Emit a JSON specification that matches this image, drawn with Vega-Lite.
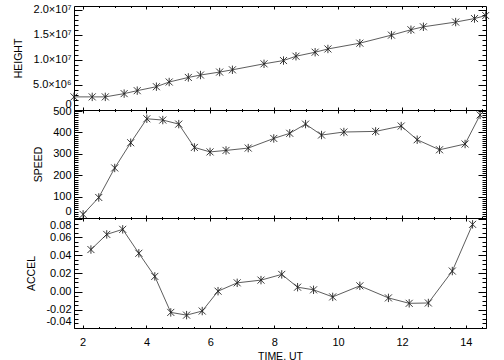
{
  "$schema": "https://vega.github.io/schema/vega-lite/v6.json",
  "padding": {"left": 13, "top": 3, "right": 16, "bottom": 0},
  "background": "white",
  "spacing": 0,
  "bounds": "flush",
  "config": {
    "view": {"stroke": "#000", "strokeWidth": 1},
    "axis": {"domain": false, "grid": false, "minExtent": 0, "labelOverlap": false, "tickColor": "#000", "tickWidth": 1, "labelFont": "Liberation Sans", "labelFontSize": 11, "labelColor": "#000", "titleFont": "Liberation Sans", "titleFontSize": 10.5, "titleFontWeight": "normal", "titleColor": "#000"}
  },
  "datasets": {
    "h": [
      {"t": 1.73, "v": 2610000}, {"t": 2.30, "v": 2610000}, {"t": 2.71, "v": 2610000}, {"t": 3.30, "v": 3260000},
      {"t": 3.71, "v": 3850000}, {"t": 4.31, "v": 4640000}, {"t": 4.71, "v": 5570000}, {"t": 5.31, "v": 6480000},
      {"t": 5.69, "v": 6960000}, {"t": 6.29, "v": 7550000}, {"t": 6.69, "v": 8000000}, {"t": 7.68, "v": 9190000},
      {"t": 8.29, "v": 9840000}, {"t": 8.68, "v": 10700000}, {"t": 9.28, "v": 11500000}, {"t": 9.68, "v": 12150000},
      {"t": 10.68, "v": 13300000}, {"t": 11.67, "v": 14900000}, {"t": 12.28, "v": 15970000}, {"t": 12.67, "v": 16560000},
      {"t": 13.68, "v": 17500000}, {"t": 14.27, "v": 18200000}, {"t": 14.62, "v": 18800000}
    ],
    "s": [
      {"t": 2.015, "v": 17}, {"t": 2.505, "v": 96}, {"t": 3.005, "v": 234}, {"t": 3.505, "v": 352},
      {"t": 4.01, "v": 464}, {"t": 4.51, "v": 458}, {"t": 5.01, "v": 439}, {"t": 5.50, "v": 330},
      {"t": 5.99, "v": 309}, {"t": 6.49, "v": 316}, {"t": 7.185, "v": 327}, {"t": 7.985, "v": 372},
      {"t": 8.485, "v": 396}, {"t": 8.98, "v": 439}, {"t": 9.48, "v": 388}, {"t": 10.18, "v": 402},
      {"t": 11.175, "v": 405}, {"t": 11.975, "v": 430}, {"t": 12.475, "v": 366}, {"t": 13.175, "v": 319},
      {"t": 13.975, "v": 346}, {"t": 14.445, "v": 482}
    ],
    "a": [
      {"t": 2.26, "v": 0.0463}, {"t": 2.755, "v": 0.063}, {"t": 3.255, "v": 0.0686}, {"t": 3.76, "v": 0.0422},
      {"t": 4.26, "v": 0.0167}, {"t": 4.76, "v": -0.023}, {"t": 5.255, "v": -0.026}, {"t": 5.745, "v": -0.0215},
      {"t": 6.24, "v": 0.0004}, {"t": 6.84, "v": 0.0096}, {"t": 7.585, "v": 0.0126}, {"t": 8.235, "v": 0.0189},
      {"t": 8.73, "v": 0.0048}, {"t": 9.23, "v": 0.0019}, {"t": 9.83, "v": -0.0059}, {"t": 10.68, "v": 0.0063},
      {"t": 11.575, "v": -0.007}, {"t": 12.225, "v": -0.013}, {"t": 12.825, "v": -0.0126}, {"t": 13.575, "v": 0.0226},
      {"t": 14.21, "v": 0.0741}
    ]
  },
  "vconcat": [
    {
      "width": 412, "height": 104,
      "data": {"name": "h"},
      "resolve": {"axis": {"x": "independent", "y": "independent"}},
      "layer": [
        {"mark": {"type": "line", "color": "#333", "strokeWidth": 0.8},
         "encoding": {
           "x": {"field": "t", "type": "quantitative", "scale": {"domain": [1.73, 14.63], "nice": false, "zero": false}, "axis": null},
           "y": {"field": "v", "type": "quantitative", "scale": {"domain": [0, 20700000], "nice": false, "zero": false},
                 "axis": {"orient": "left", "values": [0, 5000000, 10000000, 15000000, 20000000], "ticks": false, "labelPadding": 3, "labelFlush": true, "labelFlushOffset": -1, "title": "HEIGHT", "titlePadding": 9,
                          "labelExpr": "datum.value == 0 ? '0' : datum.value == 5000000 ? '5.0×10⁶' : datum.value == 10000000 ? '1.0×10⁷' : datum.value == 15000000 ? '1.5×10⁷' : '2.0×10⁷'"}}
         }},
        {"mark": {"type": "point", "shape": "M-1,-1L1,1M-1,1L1,-1M0,-1.2L0,1.2", "size": 49, "filled": false, "stroke": "#222", "strokeWidth": 0.9, "opacity": 1},
         "encoding": {
           "x": {"field": "t", "type": "quantitative", "axis": {"orient": "bottom", "values": [2,4,6,8,10,12,14], "labels": false, "tickSize": -3, "title": null}},
           "y": {"field": "v", "type": "quantitative", "axis": {"orient": "left", "values": [0, 5000000, 10000000, 15000000, 20000000], "labels": false, "tickSize": -8, "title": null}}
         }},
        {"mark": {"type": "point", "opacity": 0},
         "encoding": {
           "x": {"field": "t", "type": "quantitative", "axis": {"orient": "bottom", "values": [2.5,3,3.5,4.5,5,5.5,6.5,7,7.5,8.5,9,9.5,10.5,11,11.5,12.5,13,13.5,14.5], "labels": false, "tickSize": -1.5, "title": null}},
           "y": {"field": "v", "type": "quantitative", "axis": {"orient": "left", "values": [1000000,2000000,3000000,4000000,6000000,7000000,8000000,9000000,11000000,12000000,13000000,14000000,16000000,17000000,18000000,19000000], "labels": false, "tickSize": -4, "title": null}}
         }},
        {"mark": {"type": "point", "opacity": 0},
         "encoding": {
           "x": {"field": "t", "type": "quantitative", "axis": {"orient": "top", "values": [2,4,6,8,10,12,14], "labels": false, "tickSize": -3, "title": null}},
           "y": {"field": "v", "type": "quantitative", "axis": {"orient": "right", "values": [0, 5000000, 10000000, 15000000, 20000000], "labels": false, "tickSize": -8, "title": null}}
         }},
        {"mark": {"type": "point", "opacity": 0},
         "encoding": {
           "x": {"field": "t", "type": "quantitative", "axis": {"orient": "top", "values": [2.5,3,3.5,4.5,5,5.5,6.5,7,7.5,8.5,9,9.5,10.5,11,11.5,12.5,13,13.5,14.5], "labels": false, "tickSize": -1.5, "title": null}},
           "y": {"field": "v", "type": "quantitative", "axis": {"orient": "right", "values": [1000000,2000000,3000000,4000000,6000000,7000000,8000000,9000000,11000000,12000000,13000000,14000000,16000000,17000000,18000000,19000000], "labels": false, "tickSize": -4, "title": null}}
         }}
      ]
    },
    {
      "width": 412, "height": 108,
      "data": {"name": "s"},
      "resolve": {"axis": {"x": "independent", "y": "independent"}},
      "layer": [
        {"mark": {"type": "line", "color": "#333", "strokeWidth": 0.8},
         "encoding": {
           "x": {"field": "t", "type": "quantitative", "scale": {"domain": [1.73, 14.63], "nice": false, "zero": false}, "axis": null},
           "y": {"field": "v", "type": "quantitative", "scale": {"domain": [0, 505], "nice": false, "zero": false},
                 "axis": {"orient": "left", "values": [0, 100, 200, 300, 400, 500], "ticks": false, "labelPadding": 3, "labelFlush": true, "labelFlushOffset": -2, "title": "SPEED", "titlePadding": 9}}
         }},
        {"mark": {"type": "point", "shape": "M-1,-1L1,1M-1,1L1,-1M0,-1.2L0,1.2", "size": 49, "filled": false, "stroke": "#222", "strokeWidth": 0.9, "opacity": 1},
         "encoding": {
           "x": {"field": "t", "type": "quantitative", "axis": {"orient": "bottom", "values": [2,4,6,8,10,12,14], "labels": false, "tickSize": -3, "title": null}},
           "y": {"field": "v", "type": "quantitative", "axis": {"orient": "left", "values": [0, 100, 200, 300, 400, 500], "labels": false, "tickSize": -8, "title": null}}
         }},
        {"mark": {"type": "point", "opacity": 0},
         "encoding": {
           "x": {"field": "t", "type": "quantitative", "axis": {"orient": "bottom", "values": [2.5,3,3.5,4.5,5,5.5,6.5,7,7.5,8.5,9,9.5,10.5,11,11.5,12.5,13,13.5,14.5], "labels": false, "tickSize": -1.5, "title": null}},
           "y": {"field": "v", "type": "quantitative", "axis": {"orient": "left", "values": [10,20,30,40,50,60,70,80,90,110,120,130,140,150,160,170,180,190,210,220,230,240,250,260,270,280,290,310,320,330,340,350,360,370,380,390,410,420,430,440,450,460,470,480,490], "labels": false, "tickSize": -4, "title": null}}
         }},
        {"mark": {"type": "point", "opacity": 0},
         "encoding": {
           "x": {"field": "t", "type": "quantitative", "axis": {"orient": "top", "values": [2,4,6,8,10,12,14], "labels": false, "tickSize": -3, "title": null}},
           "y": {"field": "v", "type": "quantitative", "axis": {"orient": "right", "values": [0, 100, 200, 300, 400, 500], "labels": false, "tickSize": -8, "title": null}}
         }},
        {"mark": {"type": "point", "opacity": 0},
         "encoding": {
           "x": {"field": "t", "type": "quantitative", "axis": {"orient": "top", "values": [2.5,3,3.5,4.5,5,5.5,6.5,7,7.5,8.5,9,9.5,10.5,11,11.5,12.5,13,13.5,14.5], "labels": false, "tickSize": -1.5, "title": null}},
           "y": {"field": "v", "type": "quantitative", "axis": {"orient": "right", "values": [10,20,30,40,50,60,70,80,90,110,120,130,140,150,160,170,180,190,210,220,230,240,250,260,270,280,290,310,320,330,340,350,360,370,380,390,410,420,430,440,450,460,470,480,490], "labels": false, "tickSize": -4, "title": null}}
         }}
      ]
    },
    {
      "width": 412, "height": 110,
      "data": {"name": "a"},
      "resolve": {"axis": {"x": "independent", "y": "independent"}},
      "layer": [
        {"mark": {"type": "line", "color": "#333", "strokeWidth": 0.8},
         "encoding": {
           "x": {"field": "t", "type": "quantitative", "scale": {"domain": [1.73, 14.63], "nice": false, "zero": false},
                 "axis": {"orient": "bottom", "values": [2,4,6,8,10,12,14], "ticks": false, "labelPadding": 8, "title": "TIME, UT", "titlePadding": 4, "format": "d"}},
           "y": {"field": "v", "type": "quantitative", "scale": {"domain": [-0.0402, 0.0811], "nice": false, "zero": false},
                 "axis": {"orient": "left", "values": [-0.04, -0.02, 0, 0.02, 0.04, 0.06, 0.08], "ticks": false, "labelPadding": 3, "labelFlush": true, "labelFlushOffset": -1, "title": "ACCEL", "titlePadding": 9,
                          "labelExpr": "replace(format(datum.value, '.2f'), '−', '-')"}}
         }},
        {"mark": {"type": "point", "shape": "M-1,-1L1,1M-1,1L1,-1M0,-1.2L0,1.2", "size": 49, "filled": false, "stroke": "#222", "strokeWidth": 0.9, "opacity": 1},
         "encoding": {
           "x": {"field": "t", "type": "quantitative", "axis": {"orient": "bottom", "values": [2,4,6,8,10,12,14], "labels": false, "tickSize": -3, "title": null}},
           "y": {"field": "v", "type": "quantitative", "axis": {"orient": "left", "values": [-0.04, -0.02, 0, 0.02, 0.04, 0.06, 0.08], "labels": false, "tickSize": -8, "title": null}}
         }},
        {"mark": {"type": "point", "opacity": 0},
         "encoding": {
           "x": {"field": "t", "type": "quantitative", "axis": {"orient": "bottom", "values": [2.5,3,3.5,4.5,5,5.5,6.5,7,7.5,8.5,9,9.5,10.5,11,11.5,12.5,13,13.5,14.5], "labels": false, "tickSize": -1.5, "title": null}},
           "y": {"field": "v", "type": "quantitative", "axis": {"orient": "left", "values": [-0.035,-0.03,-0.025,-0.015,-0.01,-0.005,0.005,0.01,0.015,0.025,0.03,0.035,0.045,0.05,0.055,0.065,0.07,0.075], "labels": false, "tickSize": -4, "title": null}}
         }},
        {"mark": {"type": "point", "opacity": 0},
         "encoding": {
           "x": {"field": "t", "type": "quantitative", "axis": {"orient": "top", "values": [2,4,6,8,10,12,14], "labels": false, "tickSize": -3, "title": null}},
           "y": {"field": "v", "type": "quantitative", "axis": {"orient": "right", "values": [-0.04, -0.02, 0, 0.02, 0.04, 0.06, 0.08], "labels": false, "tickSize": -8, "title": null}}
         }},
        {"mark": {"type": "point", "opacity": 0},
         "encoding": {
           "x": {"field": "t", "type": "quantitative", "axis": {"orient": "top", "values": [2.5,3,3.5,4.5,5,5.5,6.5,7,7.5,8.5,9,9.5,10.5,11,11.5,12.5,13,13.5,14.5], "labels": false, "tickSize": -1.5, "title": null}},
           "y": {"field": "v", "type": "quantitative", "axis": {"orient": "right", "values": [-0.035,-0.03,-0.025,-0.015,-0.01,-0.005,0.005,0.01,0.015,0.025,0.03,0.035,0.045,0.05,0.055,0.065,0.07,0.075], "labels": false, "tickSize": -4, "title": null}}
         }}
      ]
    }
  ]
}
